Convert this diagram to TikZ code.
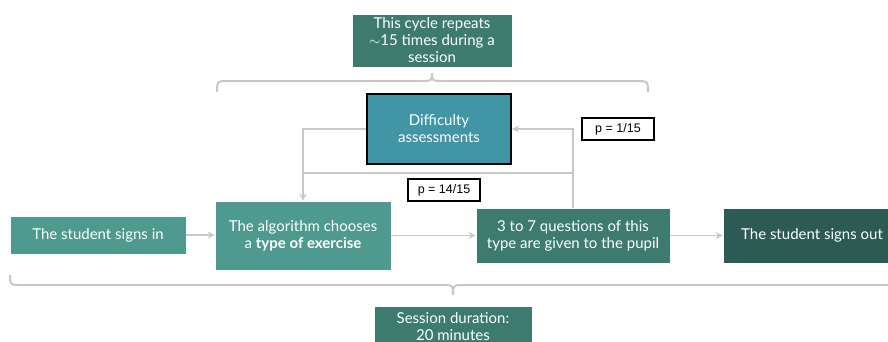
\documentclass[tikz,border=0pt]{standalone}
\usepackage{fontspec}
\setmainfont{Lato}
\newfontfamily\plabelfont{Liberation Sans}
\usetikzlibrary{arrows.meta}

\definecolor{tealA}{HTML}{4E9A8E}
\definecolor{tealB}{HTML}{3D7B6F}
\definecolor{tealC}{HTML}{2C5B54}
\definecolor{diffblue}{HTML}{4195A5}
\definecolor{linegray}{HTML}{C8C8C8}

\begin{document}
\begin{tikzpicture}[x=1pt,y=-1pt,
  box/.style={draw=white,line width=0.6pt,text=white,align=center,inner sep=0pt,
    font=\fontsize{15}{17}\selectfont},
  prob/.style={draw=black,line width=1.5pt,fill=white,minimum width=72pt,minimum height=22pt,
    inner sep=0pt,font=\plabelfont\fontsize{12.5}{14}\selectfont},
  link/.style={draw=linegray,line width=1.8pt,-{Stealth[length=7pt,width=7pt]}},
  bar/.style={draw=linegray,line width=1.8pt},
  brace/.style={draw=linegray,line width=2pt}]
\clip (0,0) rectangle (888,341);
\fill[white] (0,0) rectangle (888,341);

% Cycle
\node[box,fill=tealB,minimum width=160pt,minimum height=53pt] (cycle) at (432,40.5)
  {This cycle repeats\\$\sim$15 times during a\\session};
\draw[brace] (217,92) .. controls (217,81) .. (229,81) -- (420,81)
  .. controls (432,81) .. (432,73) .. controls (432,81) .. (444,81) -- (636,81)
  .. controls (648,81) .. (648,92);
\node[box,draw=black,line width=1.8pt,fill=diffblue,minimum width=144pt,minimum height=70pt] (diff) at (439,129)
  {Difficulty\\assessments};

% Session
\node[box,fill=tealA,minimum width=176pt,minimum height=38pt] (signin) at (98,235) {The student signs in};
\node[box,fill=tealA,minimum width=176pt,minimum height=69pt] (algo) at (303,235.5)
  {The algorithm chooses\\a \textbf{type of exercise}};
\node[box,fill=tealB,minimum width=194pt,minimum height=55pt] (quest) at (573,235.5)
  {3 to 7 questions of this\\type are given to the pupil};
\node[box,fill=tealC,minimum width=178pt,minimum height=55pt] (signout) at (812,235.5) {The student signs out};

% Arrows
\draw[link] (signin.east) -- (signin.east -| algo.west);
\draw[link] (algo.east |- quest.west) -- (quest.west);
\draw[link] (quest.east) -- (signout.west);
\draw[link] (diff.west) -| (algo.north);
\draw[link] (quest.north) |- (diff.east);
\draw[bar] (algo.north |- 0,173) -- (quest.north |- 0,173);
\node[prob] (pone) at (618,129) {p = 1/15};
\node[prob] (prest) at (444,190) {p = 14/15};

% Duration
\draw[brace] (10,275) .. controls (10,285) .. (22,285) -- (441,285)
  .. controls (453,285) .. (453,295) .. controls (453,285) .. (465,285) -- (884,285)
  .. controls (896,285) .. (896,275);
\node[box,fill=tealB,minimum width=158pt,minimum height=41pt] (dur) at (453,326.5)
  {Session duration:\\20 minutes};
\end{tikzpicture}
\end{document}
